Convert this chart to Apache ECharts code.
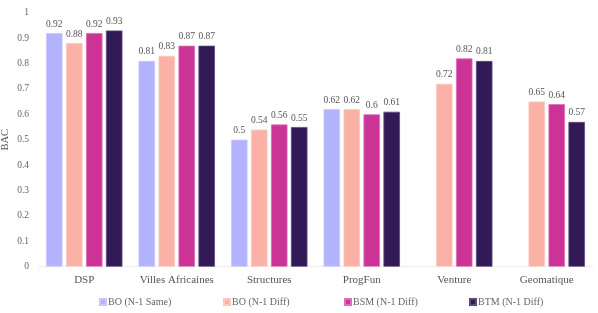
<!DOCTYPE html>
<html>
<head>
<meta charset="utf-8">
<script src="https://cdn.jsdelivr.net/npm/echarts@6/dist/echarts.min.js"></script>
<style>html,body{margin:0;padding:0;background:#fff;}#c{width:598px;height:313px;}</style>
</head>
<body>
<div id="c"></div>
<script>
const categories = ['DSP', 'Villes Africaines', 'Structures', 'ProgFun', 'Venture', 'Geomatique'];
const seriesNames = ['BO (N-1 Same)', 'BO (N-1 Diff)', 'BSM (N-1 Diff)', 'BTM (N-1 Diff)'];
const boSame = [0.92, 0.81, 0.5, 0.62, null, null];
const boDiff = [0.88, 0.83, 0.54, 0.62, 0.72, 0.65];
const bsmDiff = [0.92, 0.87, 0.56, 0.6, 0.82, 0.64];
const btmDiff = [0.93, 0.87, 0.55, 0.61, 0.81, 0.57];
const yTicks = [0, 0.1, 0.2, 0.3, 0.4, 0.5, 0.6, 0.7, 0.8, 0.9, 1];

const colors = ['#b3b3fd', '#f9b2a5', '#cb3396', '#311a55'];
const borders = ['#c8c8ff', '#fbc9bf', '#dc6fb5', '#5a4a80'];
const font = 'Liberation Serif';
const allData = [boSame, boDiff, bsmDiff, btmDiff];

const chart = echarts.init(document.getElementById('c'), null, {renderer: 'canvas'});
const legendLefts = [94, 218, 339, 464];
chart.setOption({
  animation: false,
  textStyle: {fontFamily: font},
  grid: {left: 38, right: 5, top: 12.7, height: 254, containLabel: false, outerBoundsMode: 'none'},
  legend: seriesNames.map((n, i) => ({
    data: [n], left: legendLefts[i], top: 292, itemWidth: 6, itemHeight: 6, itemGap: 2,
    icon: 'rect',
    formatter: name => '{t|' + name + '}',
    textStyle: {fontFamily: font, fontSize: 10, color: '#666', padding: [0, 0, 0, -3],
      rich: {t: {fontFamily: font, fontSize: 10, color: '#666'}}}
  })),
  xAxis: {
    type: 'category', data: categories,
    axisLine: {lineStyle: {color: '#eeeeee', width: 1}},
    axisTick: {show: false},
    axisLabel: {fontFamily: font, fontSize: 11, color: '#555', margin: 8, interval: 0,
      formatter: v => '{t|' + v + '}',
      rich: {t: {fontFamily: font, fontSize: 11, color: '#555'}}}
  },
  yAxis: {
    type: 'value', min: 0, max: 1, interval: 0.1,
    name: 'BAC', nameLocation: 'middle', nameGap: 27, nameRotate: 90, nameMoveOverlap: false,
    nameTextStyle: {fontFamily: font, fontSize: 10.5, color: '#555'},
    splitLine: {show: false}, axisLine: {show: false}, axisTick: {show: false},
    axisLabel: {fontFamily: font, fontSize: 9.5, color: '#666', margin: 9,
      formatter: v => { const t = yTicks.find(x => Math.abs(x - v) < 1e-9); return t === undefined ? '' : '{t|' + t + '}'; },
      rich: {t: {fontFamily: font, fontSize: 9.5, color: '#666'}}}
  },
  series: allData.map((d, i) => ({
    name: seriesNames[i], type: 'bar', data: d,
    barWidth: 16.5, barGap: '21%', barCategoryGap: '17%',
    itemStyle: {color: colors[i], borderColor: borders[i], borderWidth: 0.8},
    label: {show: true, position: 'top', distance: 4, fontFamily: font, fontSize: 9.5, color: '#555'}
  }))
});
</script>
</body>
</html>
